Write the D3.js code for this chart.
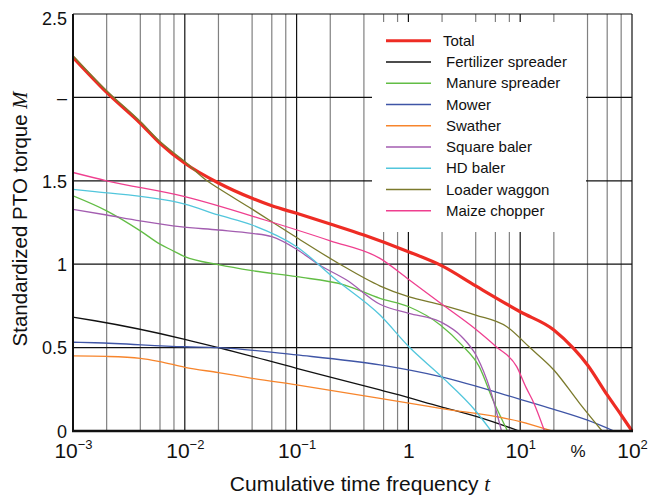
<!DOCTYPE html>
<html>
<head>
<meta charset="utf-8">
<script src="https://cdn.jsdelivr.net/npm/d3@7"></script>
<style>
  body { margin: 0; background: #fff; }
  svg text { font-family: "Liberation Sans", Arial, sans-serif; }
</style>
</head>
<body>
<div id="chart"></div>
<script>
// cumulative time frequency (%) and standardized torque per implement
var totalT = [0.001, 0.002, 0.004, 0.006, 0.01, 0.02, 0.04, 0.06, 0.1, 0.2, 0.4, 1, 2, 4, 10, 20, 30, 40, 60, 80, 100];
var totalM = [2.24, 2.03, 1.845, 1.725, 1.605, 1.487, 1.395, 1.35, 1.305, 1.241, 1.175, 1.075, 0.99, 0.87, 0.715, 0.606, 0.495, 0.396, 0.216, 0.096, 0];

var fertT = [0.001, 0.00157, 0.01, 0.02, 0.1, 0.557, 0.76, 1.93, 4.1, 9.8];
var fertM = [0.682, 0.661, 0.55, 0.5, 0.376, 0.246, 0.222, 0.146, 0.086, 0];

var manureT = [0.001, 0.002, 0.004, 0.006, 0.0076, 0.01, 0.02, 0.04, 0.1, 0.27, 0.557, 1.01, 1.93, 3.0, 4.3, 5.7, 7.7];
var manureM = [1.41, 1.32, 1.2, 1.12, 1.085, 1.045, 0.997, 0.961, 0.925, 0.875, 0.795, 0.745, 0.636, 0.516, 0.386, 0.186, 0];

var mowerT = [0.001, 0.00157, 0.01, 0.02, 0.1, 0.557, 1.93, 10, 20, 40, 69];
var mowerM = [0.532, 0.529, 0.505, 0.5, 0.456, 0.396, 0.326, 0.19, 0.13, 0.065, 0];

var swatherT = [0.001, 0.002, 0.004, 0.006, 0.01, 0.02, 0.04, 0.1, 0.557, 1.93, 10, 19.2];
var swatherM = [0.45, 0.447, 0.436, 0.416, 0.382, 0.35, 0.316, 0.276, 0.196, 0.136, 0.056, 0];

var squareT = [0.001, 0.002, 0.004, 0.009, 0.02, 0.04, 0.06, 0.1, 0.16, 0.28, 0.557, 1.01, 1.93, 3.0, 4.1, 5.4, 6.8];
var squareM = [1.329, 1.295, 1.26, 1.225, 1.205, 1.185, 1.165, 1.09, 0.995, 0.905, 0.76, 0.705, 0.655, 0.565, 0.445, 0.246, 0];

var hdT = [0.001, 0.00157, 0.01, 0.02, 0.04, 0.1, 0.227, 0.557, 1.01, 1.98, 4, 5.5];
var hdM = [1.449, 1.435, 1.36, 1.295, 1.235, 1.105, 0.905, 0.695, 0.505, 0.326, 0.12, 0];

var loaderT = [0.001, 0.002, 0.004, 0.006, 0.01, 0.0158, 0.02, 0.04, 0.1, 0.244, 0.56, 1, 2, 4, 7.6, 12.2, 20, 34, 54];
var loaderM = [2.25, 2.04, 1.855, 1.735, 1.615, 1.5, 1.455, 1.33, 1.16, 1.0, 0.869, 0.805, 0.755, 0.695, 0.625, 0.5, 0.366, 0.166, 0];

var maizeT = [0.001, 0.002, 0.01, 0.052, 0.2, 0.557, 1, 1.93, 4, 6.1, 9.3, 11.3, 13.2, 16.5];
var maizeM = [1.55, 1.5, 1.405, 1.265, 1.14, 1.035, 0.91, 0.767, 0.61, 0.505, 0.386, 0.26, 0.17, 0];

var xDecades = [0.001, 0.01, 0.1, 1, 10, 100];
var xDecadeExp = ["-3", "-2", "-1", "", "1", "2"];
var yTicks = [0, 0.5, 1, 1.5, 2, 2.5];
var yTickLabels = ["0", "0.5", "1", "1.5", "\u2013", "2.5"];

var series = [
  { name: "Total", t: totalT, m: totalM, color: "#ee2c24", width: 3.2 },
  { name: "Fertilizer spreader", t: fertT, m: fertM, color: "#111111", width: 1.3 },
  { name: "Manure spreader", t: manureT, m: manureM, color: "#62bd45", width: 1.3 },
  { name: "Mower", t: mowerT, m: mowerM, color: "#3f55a6", width: 1.3 },
  { name: "Swather", t: swatherT, m: swatherM, color: "#f7852c", width: 1.3 },
  { name: "Square baler", t: squareT, m: squareM, color: "#a35db0", width: 1.3 },
  { name: "HD baler", t: hdT, m: hdM, color: "#52c6dc", width: 1.3 },
  { name: "Loader waggon", t: loaderT, m: loaderM, color: "#7b7a2c", width: 1.3 },
  { name: "Maize chopper", t: maizeT, m: maizeM, color: "#ef3f8f", width: 1.3 }
];

var W = 649, H = 498;
var margin = { top: 14, right: 17, bottom: 67, left: 73 };
var width = W - margin.left - margin.right;
var height = H - margin.top - margin.bottom;

var svg = d3.select("#chart").append("svg")
  .attr("width", W).attr("height", H);
var g = svg.append("g")
  .attr("transform", "translate(" + margin.left + "," + margin.top + ")");

var x = d3.scaleLog().domain([0.001, 100]).range([0, width]);
var y = d3.scaleLinear().domain([0, 2.5]).range([height, 0]);

// vertical grid: 1,2,4,6,8 per decade
var vGrid = [];
[-3, -2, -1, 0, 1].forEach(function (k) {
  [1, 2, 4, 6, 8].forEach(function (m) {
    vGrid.push({ v: m * Math.pow(10, k), major: m === 1 });
  });
});
g.selectAll(".vgrid").data(vGrid.filter(function (d) { return d.v > 0.001; }))
  .enter().append("line")
  .attr("x1", function (d) { return x(d.v); })
  .attr("x2", function (d) { return x(d.v); })
  .attr("y1", 0).attr("y2", height)
  .attr("stroke", function (d) { return d.major ? "#111" : "#808080"; })
  .attr("stroke-width", 1.2);

g.selectAll(".hgrid").data([0.5, 1, 1.5, 2])
  .enter().append("line")
  .attr("x1", 0).attr("x2", width)
  .attr("y1", function (d) { return y(d); })
  .attr("y2", function (d) { return y(d); })
  .attr("stroke", "#111").attr("stroke-width", 1.2);

// legend background hides the grid
g.append("rect")
  .attr("x", 372 - margin.left).attr("y", 22 - margin.top)
  .attr("width", 214).attr("height", 210)
  .attr("fill", "#fff");

g.append("clipPath").attr("id", "clip")
  .append("rect").attr("x", 0).attr("y", -5).attr("width", width + 2).attr("height", height + 5);

var line = d3.line()
  .x(function (d) { return x(d[0]); })
  .y(function (d) { return y(d[1]); })
  .curve(d3.curveMonotoneX);

var lines = g.append("g").attr("clip-path", "url(#clip)");
series.forEach(function (s) {
  lines.append("path")
    .datum(d3.zip(s.t, s.m))
    .attr("d", line)
    .attr("fill", "none")
    .attr("stroke", s.color)
    .attr("stroke-width", s.width)
    .attr("stroke-linejoin", "round");
});

// frame
g.append("line").attr("x1", 0).attr("x2", width).attr("y1", 0).attr("y2", 0)
  .attr("stroke", "#111").attr("stroke-width", 1.2);
g.append("line").attr("x1", width).attr("x2", width).attr("y1", 0).attr("y2", height)
  .attr("stroke", "#111").attr("stroke-width", 1.2);
g.append("line").attr("x1", 0).attr("x2", 0).attr("y1", 0).attr("y2", height + 1)
  .attr("stroke", "#111").attr("stroke-width", 2);
g.append("line").attr("x1", -1).attr("x2", width + 1).attr("y1", height).attr("y2", height)
  .attr("stroke", "#111").attr("stroke-width", 2.4);

// x axis labels (10^k)
var xAxis = g.append("g")
  .attr("transform", "translate(0," + height + ")")
  .call(d3.axisBottom(x).tickValues(xDecades).tickSize(0).tickFormat(""));
xAxis.select(".domain").remove();
xAxis.selectAll(".tick").each(function (d, i) {
  var t = d3.select(this).append("text")
    .attr("y", 27).attr("fill", "#111")
    .attr("text-anchor", "middle")
    .style("font-size", "21px");
  if (xDecadeExp[i] === "") {
    t.text("1");
  } else {
    t.append("tspan").text("10");
    t.append("tspan").attr("dy", -9).style("font-size", "13px")
      .text(xDecadeExp[i].replace("-", "\u2212"));
  }
});
g.append("text")
  .attr("x", x(33)).attr("y", height + 26)
  .attr("text-anchor", "middle").attr("fill", "#111")
  .style("font-size", "17px").text("%");

// y axis labels
var yAxis = g.append("g")
  .call(d3.axisLeft(y).tickValues(yTicks).tickSize(0).tickPadding(6)
    .tickFormat(function (d, i) { return yTickLabels[i]; }));
yAxis.select(".domain").remove();
yAxis.selectAll("text").style("font-size", "18px").attr("fill", "#111")
  .attr("dy", function (d) { return d === 2.5 ? "0.6em" : "0.35em"; });

// axis titles
var xt = svg.append("text")
  .attr("x", 360).attr("y", 491)
  .attr("text-anchor", "middle").attr("fill", "#111")
  .style("font-size", "21px");
xt.append("tspan").text("Cumulative time frequency  ");
xt.append("tspan").style("font-family", "'Liberation Serif', serif").style("font-style", "italic").text("t");

var yt = svg.append("text")
  .attr("transform", "translate(27,219) rotate(-90)")
  .attr("text-anchor", "middle").attr("fill", "#111")
  .style("font-size", "20.5px");
yt.append("tspan").text("Standardized PTO torque  ");
yt.append("tspan").style("font-family", "'Liberation Serif', serif").style("font-style", "italic").text("M");

// legend
var legend = svg.append("g");
series.forEach(function (s, i) {
  var ly = 40.7 + i * 21.25;
  legend.append("line")
    .attr("x1", 386).attr("x2", 431).attr("y1", ly).attr("y2", ly)
    .attr("stroke", s.color).attr("stroke-width", i === 0 ? 3 : 1.5);
  legend.append("text")
    .attr("x", i === 0 ? 443 : 446).attr("y", ly).attr("dy", "0.35em")
    .attr("fill", "#111").style("font-size", "15px")
    .text(s.name);
});
</script>
</body>
</html>
